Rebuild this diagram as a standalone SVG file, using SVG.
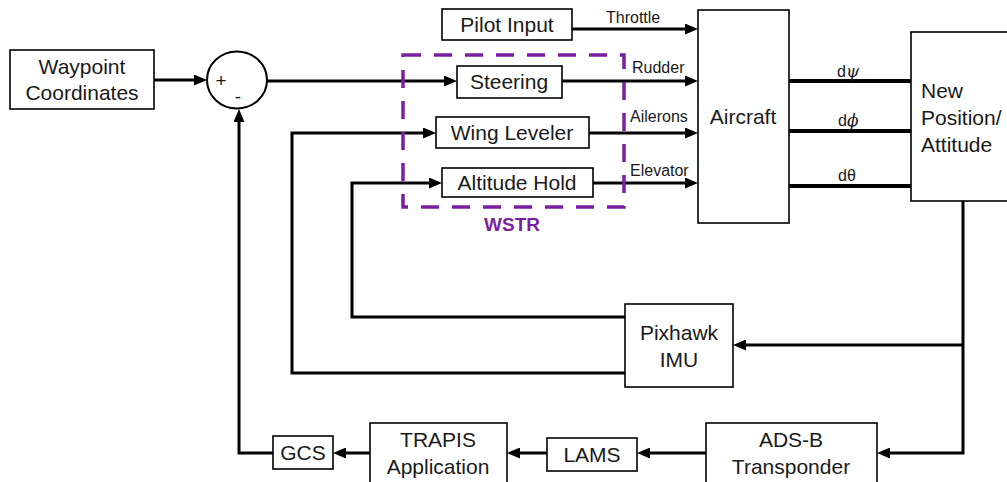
<svg xmlns="http://www.w3.org/2000/svg" width="1007" height="482" viewBox="0 0 1007 482">
<style>
.box{fill:#fff;stroke:#000;stroke-width:1.6}
.t{font-family:"Liberation Sans",Arial,sans-serif;font-size:21px;fill:#1a1a1a;text-anchor:middle}
.tl{font-family:"Liberation Sans",Arial,sans-serif;font-size:21px;fill:#1a1a1a}
.s{font-family:"Liberation Sans",Arial,sans-serif;font-size:16px;fill:#1a1a1a}
.c{fill:none;stroke:#000;stroke-width:3;stroke-linejoin:miter}
.a{marker-end:url(#arr)}
.o{fill:none;stroke:#000;stroke-width:4}
</style>
<defs>
<marker id="arr" viewBox="0 0 13 11" refX="6" refY="5.5" markerWidth="13" markerHeight="11" markerUnits="userSpaceOnUse" orient="auto">
<path d="M0,0 L13,5.5 L0,11 z" fill="#000"/>
</marker>
</defs>
<rect width="1007" height="482" fill="#fff"/>

<g id="connectors">
<path class="c a" d="M154 80 H200"/>
<path class="c a" d="M267 81 H450"/>
<path class="c a" d="M572 29 H691"/>
<path class="c a" d="M562 81 H691"/>
<path class="c a" d="M589 133 H691"/>
<path class="c a" d="M593 183 H691"/>
<path class="o" d="M789 81 H911"/>
<path class="o" d="M789 131 H911"/>
<path class="o" d="M789 186 H911"/>
<path class="c a" d="M963 201 V453 H884"/>
<path class="c a" d="M963 345 H740"/>
<path class="c a" d="M625 317 H352 V183 H435"/>
<path class="c a" d="M625 373 H292 V133 H429"/>
<path class="c a" d="M706 453 H644"/>
<path class="c a" d="M547 453 H514"/>
<path class="c a" d="M370 453 H340"/>
<path class="c a" d="M273 453 H239 V116"/>
<text class="s" x="606" y="23">Throttle</text>
<text class="s" x="632" y="73">Rudder</text>
<text class="s" x="630" y="122">Ailerons</text>
<text class="s" x="630" y="176">Elevator</text>
<text class="s" x="837" y="77">d<tspan font-family="DejaVu Serif,serif" font-style="italic" font-size="17">ψ</tspan></text>
<text class="s" x="838" y="126">d<tspan font-family="DejaVu Serif,serif" font-style="italic" font-size="17">ϕ</tspan></text>
<text class="s" x="838" y="181">dθ</text>
</g>

<g id="wstr">
<rect x="403" y="55" width="221" height="152" fill="none" stroke="#7b1fa2" stroke-width="3.5" stroke-dasharray="18 13"/>
<text x="512" y="231" font-family="Liberation Sans,Arial,sans-serif" font-size="19" font-weight="bold" fill="#7b1fa2" text-anchor="middle">WSTR</text>
</g>

<g id="waypoint">
<rect class="box" x="10" y="50" width="144" height="59"/>
<text class="t" x="82" y="74">Waypoint</text>
<text class="t" x="82" y="100">Coordinates</text>
</g>

<g id="sum">
<ellipse cx="237" cy="80" rx="30" ry="28.5" fill="#fff" stroke="#000" stroke-width="2"/>
<text x="221" y="87" font-family="Liberation Sans,Arial,sans-serif" font-size="19" text-anchor="middle" fill="#1a1a1a">+</text>
<text x="238" y="103" font-family="Liberation Sans,Arial,sans-serif" font-size="19" text-anchor="middle" fill="#1a1a1a">-</text>
</g>

<g id="pilot">
<rect class="box" x="442" y="9" width="130" height="31"/>
<text class="t" x="507" y="32">Pilot Input</text>
</g>

<g id="steering">
<rect class="box" x="457" y="66" width="105" height="32"/>
<text class="t" x="509" y="89">Steering</text>
</g>

<g id="wing">
<rect class="box" x="436" y="117" width="153" height="31"/>
<text class="t" x="512" y="140">Wing Leveler</text>
</g>

<g id="alt">
<rect class="box" x="442" y="168" width="151" height="29"/>
<text class="t" x="517" y="190">Altitude Hold</text>
</g>

<g id="aircraft">
<rect class="box" x="698" y="10" width="91" height="213"/>
<text class="t" x="743" y="124">Aircraft</text>
</g>

<g id="newpos">
<rect class="box" x="911" y="32" width="110" height="169"/>
<text class="tl" x="921" y="98">New</text>
<text class="tl" x="921" y="125">Position/</text>
<text class="tl" x="921" y="152">Attitude</text>
</g>

<g id="pixhawk">
<rect class="box" x="625" y="304" width="108" height="83"/>
<text class="t" x="679" y="340">Pixhawk</text>
<text class="t" x="679" y="367">IMU</text>
</g>

<g id="adsb">
<rect class="box" x="706" y="423" width="171" height="64"/>
<text class="t" x="791" y="447">ADS-B</text>
<text class="t" x="791" y="474">Transponder</text>
</g>

<g id="lams">
<rect class="box" x="547" y="438" width="90" height="33"/>
<text class="t" x="592" y="462">LAMS</text>
</g>

<g id="trapis">
<rect class="box" x="370" y="423" width="137" height="64"/>
<text class="t" x="438" y="447">TRAPIS</text>
<text class="t" x="438" y="474">Application</text>
</g>

<g id="gcs">
<rect class="box" x="273" y="436" width="60" height="33"/>
<text class="t" x="303" y="460">GCS</text>
</g>
</svg>
